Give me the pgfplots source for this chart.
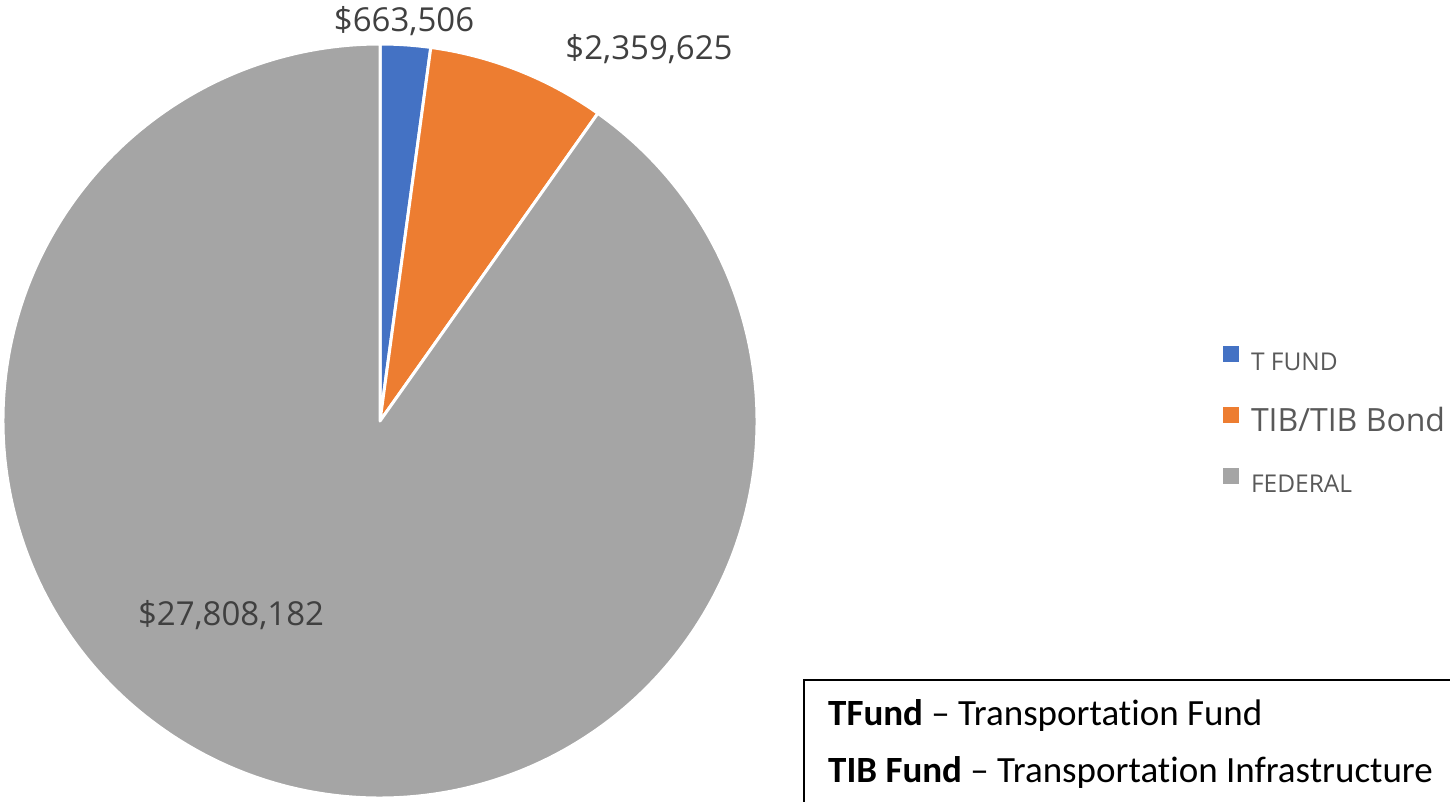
\documentclass[border=0pt]{standalone}
\usepackage{pgfplots}
\pgfplotsset{compat=1.18}
\usepackage{pgfplotstable}
\usepackage{fontspec}
\setmainfont{Open Sans}
\newfontfamily\calib[Ligatures={TeX,NoCommon}]{Carlito}
\definecolor{tblue}{HTML}{4472C4}
\definecolor{torange}{HTML}{ED7D31}
\definecolor{tgray}{HTML}{A5A5A5}
\definecolor{lbl}{HTML}{404040}
\definecolor{leg}{HTML}{595959}

\pgfplotstableread{
label value
TFUND 663506
TIB 2359625
FEDERAL 27808182
}\piedata
\pgfplotstablegetelem{0}{value}\of\piedata \edef\va{\pgfplotsretval}
\pgfplotstablegetelem{1}{value}\of\piedata \edef\vb{\pgfplotsretval}
\pgfplotstablegetelem{2}{value}\of\piedata \edef\vc{\pgfplotsretval}
\edef\total{\fpeval{\va+\vb+\vc}}
\edef\aa{\fpeval{90-360*\va/\total}}
\edef\ab{\fpeval{\aa-360*\vb/\total}}
\def\ac{-270}

\begin{document}
\begin{tikzpicture}
\begin{axis}[
  at={(0,0)}, anchor=south west,
  scale only axis, width=1450pt, height=801pt,
  xmin=0, xmax=1450, ymin=0, ymax=801,
  hide axis, clip=false,
  legend image code/.code={\fill[#1, draw=none] (0pt,0.5pt) rectangle (16pt,16.5pt);},
  legend cell align=left,
  legend style={draw=none, fill=none, inner sep=0pt, outer sep=0pt,
    at={(axis cs:1223,455)}, anchor=north west,
    row sep=30pt, column sep=12pt,
    nodes={inner sep=0pt, text height=22pt, text depth=7pt, text=leg},
    font=\fontsize{24.5}{28}\selectfont},
]
\fill[tblue, draw=white, line width=3pt, line join=round] (axis cs:380,380) -- ++(90:377pt) arc[start angle=90, end angle=\aa, radius=377pt] -- cycle;
\fill[torange, draw=white, line width=3pt, line join=round] (axis cs:380,380) -- ++(\aa:377pt) arc[start angle=\aa, end angle=\ab, radius=377pt] -- cycle;
\fill[tgray, draw=white, line width=3pt, line join=round] (axis cs:380,380) -- ++(\ab:377pt) arc[start angle=\ab, end angle=\ac, radius=377pt] -- cycle;

\addlegendimage{fill=tblue}
\addlegendentry{T FUND}
\addlegendimage{fill=torange}
\addlegendentry{\fontsize{32}{36}\selectfont TIB/TIB Bond}
\addlegendimage{fill=tgray}
\addlegendentry{FEDERAL}

\node[anchor=base, text=lbl, font=\fontsize{33}{40}\selectfont] at (axis cs:404,769) {\$663,506};
\node[anchor=base, text=lbl, font=\fontsize{33}{40}\selectfont] at (axis cs:649,741) {\$2,359,625};
\node[anchor=base, text=lbl, font=\fontsize{33}{40}\selectfont] at (axis cs:231,176) {\$27,808,182};

\draw[black, line width=2pt] (axis cs:804,-60) -- (axis cs:804,121) -- (axis cs:1500,121);
\node[anchor=base west, inner sep=0pt, font=\calib\fontsize{37}{44}\selectfont] at (axis cs:828,76) {\textbf{TFund} – Transportation Fund};
\node[anchor=base west, inner sep=0pt, font=\calib\fontsize{37}{44}\selectfont] at (axis cs:828,19) {\textbf{TIB Fund} – Transportation Infrastructure};
\end{axis}
\pgfresetboundingbox
\useasboundingbox (0,0) rectangle (1450pt,801pt);
\end{tikzpicture}
\end{document}
